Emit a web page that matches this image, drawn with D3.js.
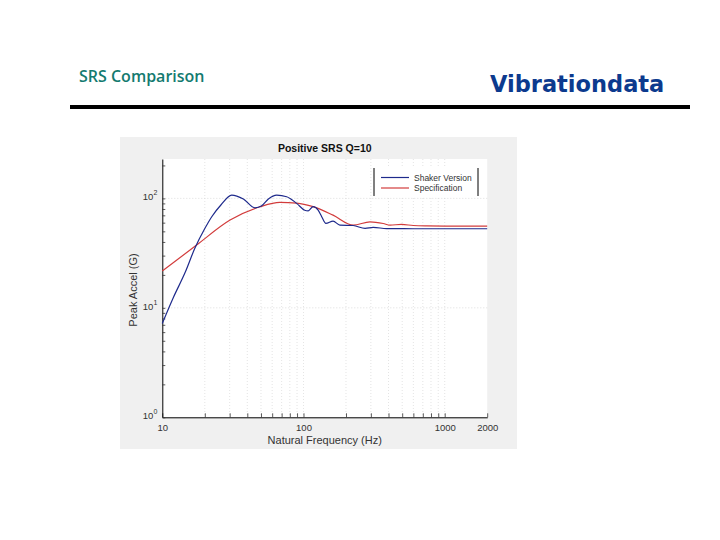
<!DOCTYPE html>
<html>
<head>
<meta charset="utf-8">
<script src="https://cdnjs.cloudflare.com/ajax/libs/d3/7.8.5/d3.min.js"></script>
<style>
  body { margin: 0; background: #fff; }
  svg { display: block; }
</style>
</head>
<body>
<div id="chart"></div>
<script>
// shaker SRS (blue)
var shakerFreq = [10, 12, 14.5, 17, 20, 22.4, 26, 31, 37.5, 45.4, 50.6, 56.4, 64.6, 76, 89.5, 102, 108, 117, 127, 134.6, 144, 162, 181, 225, 273, 312, 388, 600, 1000, 2000];
var shakerAcc  = [7.2, 12.5, 21, 35, 53, 68, 87, 107, 98.6, 82, 85.6, 98.6, 107, 103.5, 90, 78, 77, 84, 78, 68, 59, 62, 57, 56.5, 53.2, 54.3, 53, 52.8, 52.8, 52.8];

// specification SRS (red)
var specFreq = [10, 17.5, 30.2, 49.2, 68, 89.5, 117, 162, 225, 296, 367, 410, 495, 599, 746, 1000, 2000];
var specAcc  = [21.7, 37.5, 63.4, 83.8, 91.9, 90.6, 84, 70.3, 57, 61.1, 59, 57, 57.9, 56.5, 56, 55.8, 55.8];

var xTickLabels = [10, 100, 1000, 2000];
var yTickLabels = [1, 10, 100];
var seriesNames = ["Shaker Version", "Specification"];

var width = 720, height = 540;
var margin = {top: 159, right: 232.8, bottom: 122.7, left: 162.3};
var plotW = width - margin.left - margin.right,
    plotH = height - margin.top - margin.bottom;

var svg = d3.select("#chart").append("svg")
    .attr("width", width)
    .attr("height", height)
    .style("font-family", "'Liberation Sans', Arial, sans-serif");

// slide header
svg.append("text")
    .attr("x", 79)
    .attr("y", 82)
    .style("font-family", "'Open Sans', Lato, sans-serif")
    .style("font-size", "16px")
    .style("font-weight", "600")
    .style("fill", "#137a6f")
    .text("SRS Comparison");

svg.append("text")
    .attr("x", 490)
    .attr("y", 92)
    .style("font-family", "'DejaVu Sans', Verdana, sans-serif")
    .style("font-weight", "bold")
    .style("font-size", "22.5px")
    .style("fill", "#0c3a8e")
    .text("Vibrationdata");

svg.append("line")
    .attr("x1", 70).attr("x2", 690)
    .attr("y1", 107).attr("y2", 107)
    .style("stroke", "#000")
    .style("stroke-width", 4);

// grey figure panel
svg.append("rect")
    .attr("x", 120).attr("y", 137)
    .attr("width", 397).attr("height", 312)
    .style("fill", "#f0f0f0");

var g = svg.append("g")
    .attr("transform", "translate(" + margin.left + "," + margin.top + ")");

g.append("rect")
    .attr("width", plotW).attr("height", plotH)
    .style("fill", "#fff");

var x = d3.scaleLog().domain([10, 2000]).range([0, plotW]);
var y = d3.scaleLog().domain([1, 229]).range([plotH, 0]);

var xTicks = [];
[10, 100, 1000].forEach(function(d) {
  for (var k = 1; k <= 9; k++) {
    if (d * k <= 2000) xTicks.push(d * k);
  }
});
var yTicks = [];
[1, 10, 100].forEach(function(d) {
  for (var k = 1; k <= 9; k++) {
    if (d * k <= 229) yTicks.push(d * k);
  }
});

// grid
g.append("g").selectAll("line")
    .data(xTicks.filter(function(d) { return d > 10 && d < 2000; }))
    .enter().append("line")
    .attr("x1", function(d) { return x(d); })
    .attr("x2", function(d) { return x(d); })
    .attr("y1", 0).attr("y2", plotH)
    .style("stroke", "#d8d8d8")
    .style("stroke-width", 0.7)
    .style("stroke-dasharray", "1,2");

g.append("g").selectAll("line")
    .data([10, 100])
    .enter().append("line")
    .attr("x1", 0).attr("x2", plotW)
    .attr("y1", function(d) { return y(d); })
    .attr("y2", function(d) { return y(d); })
    .style("stroke", "#d0d0d0")
    .style("stroke-width", 0.7)
    .style("stroke-dasharray", "1,2");

// axes
var xAxis = g.append("g")
    .attr("transform", "translate(0," + plotH + ")")
    .call(d3.axisBottom(x)
      .tickValues(xTicks)
      .tickSizeInner(-4)
      .tickSizeOuter(0)
      .tickPadding(7)
      .tickFormat(function(d) { return xTickLabels.indexOf(d) >= 0 ? d : ""; }));

var yAxis = g.append("g")
    .call(d3.axisLeft(y)
      .tickValues(yTicks)
      .tickSizeInner(-3)
      .tickSizeOuter(0)
      .tickFormat(""));

[xAxis, yAxis].forEach(function(a) {
  a.select(".domain").style("stroke", "#000").style("stroke-width", 1);
  a.selectAll(".tick line").style("stroke", "#333").style("stroke-width", 0.8);
  a.selectAll("text").style("font-family", "'Liberation Sans', Arial, sans-serif")
    .style("font-size", "9.5px").style("fill", "#333");
});

// y tick labels as 10^n
yTickLabels.forEach(function(v) {
  var t = g.append("text")
      .attr("x", -5)
      .attr("y", y(v) + 2)
      .attr("text-anchor", "end")
      .style("font-size", "9.5px")
      .style("fill", "#333");
  t.append("tspan").text("10");
  t.append("tspan").attr("dy", -5).style("font-size", "7px").text(Math.round(Math.log10(v)));
});

// lines
var line = d3.line()
    .x(function(d) { return x(d[0]); })
    .y(function(d) { return y(d[1]); })
    .curve(d3.curveMonotoneX);

g.append("path")
    .datum(specFreq.map(function(f, i) { return [f, specAcc[i]]; }))
    .attr("d", line)
    .style("fill", "none")
    .style("stroke", "#d23c3c")
    .style("stroke-width", 1.2);

g.append("path")
    .datum(shakerFreq.map(function(f, i) { return [f, shakerAcc[i]]; }))
    .attr("d", line)
    .style("fill", "none")
    .style("stroke", "#1e2a8c")
    .style("stroke-width", 1.2);

// title and axis labels
svg.append("text")
    .attr("x", margin.left + plotW / 2)
    .attr("y", 152)
    .attr("text-anchor", "middle")
    .style("font-size", "10.5px")
    .style("font-weight", "bold")
    .style("fill", "#111")
    .text("Positive SRS Q=10");

svg.append("text")
    .attr("x", margin.left + plotW / 2)
    .attr("y", 444)
    .attr("text-anchor", "middle")
    .style("font-size", "11px")
    .style("fill", "#333")
    .text("Natural Frequency (Hz)");

svg.append("text")
    .attr("transform", "translate(137,290) rotate(-90)")
    .attr("text-anchor", "middle")
    .style("font-size", "11px")
    .style("fill", "#333")
    .text("Peak Accel (G)");

// legend
var leg = svg.append("g").attr("transform", "translate(374,168)");
leg.append("rect").attr("width", 104).attr("height", 28).style("fill", "#fff");
leg.append("line").attr("x1", 0).attr("x2", 0).attr("y1", 0).attr("y2", 28).style("stroke", "#000");
leg.append("line").attr("x1", 104).attr("x2", 104).attr("y1", 0).attr("y2", 28).style("stroke", "#000");
var legColors = ["#1e2a8c", "#d23c3c"];
seriesNames.forEach(function(name, i) {
  var yy = 9.5 + i * 10.5;
  leg.append("line")
      .attr("x1", 7).attr("x2", 35)
      .attr("y1", yy).attr("y2", yy)
      .style("stroke", legColors[i])
      .style("stroke-width", 1.2);
  leg.append("text")
      .attr("x", 40)
      .attr("y", yy + 3)
      .style("font-size", "8.5px")
      .style("fill", "#333")
      .text(name);
});
</script>
</body>
</html>
